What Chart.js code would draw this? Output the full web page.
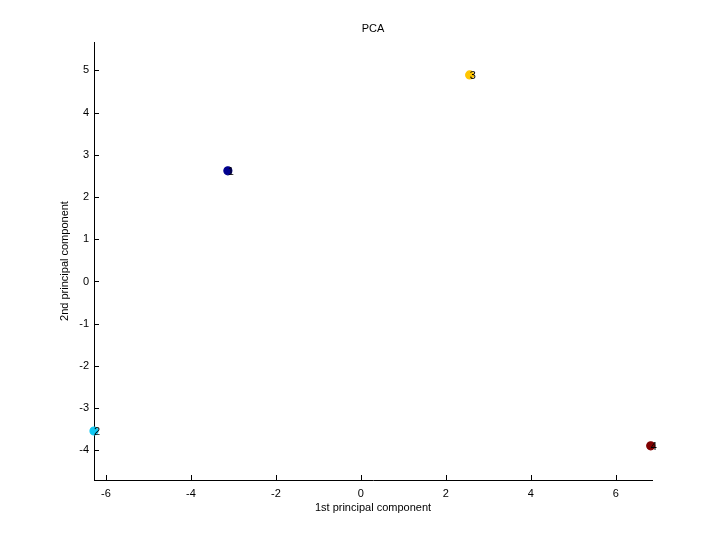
<!DOCTYPE html>
<html>
<head>
<meta charset="utf-8">
<script src="https://cdn.jsdelivr.net/npm/chart.js@4/dist/chart.umd.min.js"></script>
<style>
  body { margin: 0; background: #fff; }
</style>
</head>
<body>
<canvas id="pca" width="720" height="540"></canvas>
<script>
// scores on the first two principal components
const pc1 = [-3.13, -6.28, 2.56, 6.82]
const pc2 = [2.62, -3.54, 4.89, -3.89]
const pointLabels = ['1', '2', '3', '4']
const pointColors = ['#00008f', '#10c8f2', '#ffc600', '#800000']
const xTicks = [-6, -4, -2, 0, 2, 4, 6]
const yTicks = [-4, -3, -2, -1, 0, 1, 2, 3, 4, 5]

const font = { family: 'Liberation Sans, Arial, sans-serif', size: 11, weight: 'normal' }

// matlab style ticks pointing into the plot + text next to each point
const extras = {
    id: 'extras',
    afterDatasetsDraw(chart) {
        const ctx = chart.ctx
        const x = chart.scales.x, y = chart.scales.y
        ctx.save()
        ctx.strokeStyle = '#000'
        ctx.lineWidth = 1
        ctx.beginPath()
        xTicks.forEach(v => {
            const px = Math.round(x.getPixelForValue(v)) + 0.5
            ctx.moveTo(px, y.bottom)
            ctx.lineTo(px, y.bottom - 5)
        })
        yTicks.forEach(v => {
            const py = Math.round(y.getPixelForValue(v)) + 0.5
            ctx.moveTo(x.left, py)
            ctx.lineTo(x.left + 5, py)
        })
        ctx.stroke()

        ctx.fillStyle = '#000'
        ctx.font = font.size + 'px ' + font.family
        ctx.textAlign = 'left'
        ctx.textBaseline = 'middle'
        pointLabels.forEach((t, i) => {
            ctx.fillText(t, x.getPixelForValue(pc1[i]), y.getPixelForValue(pc2[i]) + 1)
        })
        ctx.restore()
    }
}

new Chart(document.getElementById('pca'), {
    type: 'scatter',
    data: {
        datasets: [{
            data: pc1.map((v, i) => ({ x: v, y: pc2[i] })),
            pointBackgroundColor: pointColors,
            pointBorderColor: pointColors,
            pointRadius: 4,
            pointBorderWidth: 1.2,
            clip: false
        }]
    },
    options: {
        responsive: false,
        animation: false,
        layout: { padding: { left: 0, right: 68, top: 0, bottom: 0 } },
        plugins: {
            legend: { display: false },
            tooltip: { enabled: false },
            title: {
                display: true,
                text: 'PCA',
                color: '#000',
                font: font,
                fullSize: false,
                padding: { top: 22, bottom: 6.8 }
            }
        },
        scales: {
            x: {
                type: 'linear',
                min: -6.28,
                max: 6.85,
                afterBuildTicks: s => { s.ticks = xTicks.map(v => ({ value: v })) },
                afterFit: s => { s.height = 60 },
                grid: { drawOnChartArea: false, drawTicks: false },
                border: { color: '#000', width: 1 },
                ticks: { color: '#000', font: font, padding: 7, maxRotation: 0 },
                title: {
                    display: true,
                    text: '1st principal component',
                    color: '#000',
                    font: font,
                    padding: { top: 0, bottom: 25 }
                }
            },
            y: {
                type: 'linear',
                min: -4.70,
                max: 5.67,
                afterBuildTicks: s => { s.ticks = yTicks.map(v => ({ value: v })) },
                afterFit: s => { s.width = 94 },
                grid: { drawOnChartArea: false, drawTicks: false },
                border: { color: '#000', width: 1 },
                ticks: { color: '#000', font: font, padding: 5 },
                title: {
                    display: true,
                    text: '2nd principal component',
                    color: '#000',
                    font: font,
                    padding: { top: 58.4, bottom: 0 }
                }
            }
        }
    },
    plugins: [extras]
})
</script>
</body>
</html>
